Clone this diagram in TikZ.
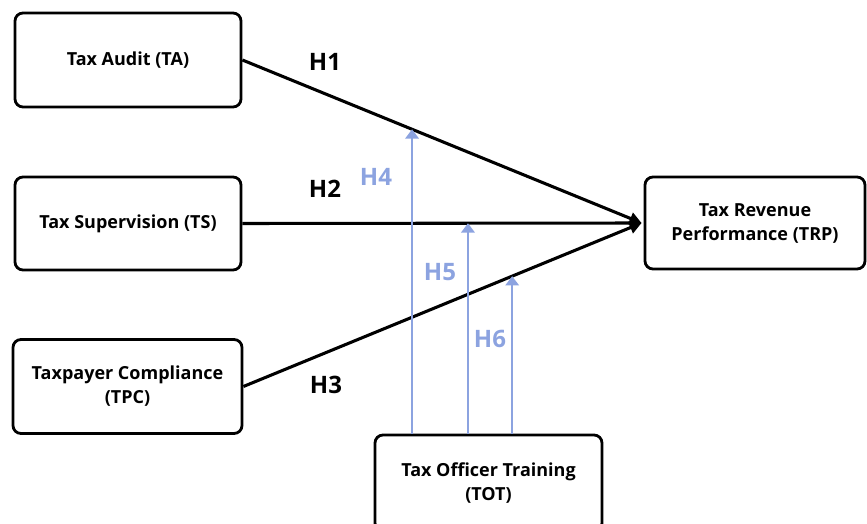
\documentclass[tikz,border=0pt]{standalone}
\usepackage{fontspec}
\setmainfont{Open Sans}
\usetikzlibrary{arrows.meta,calc}
\definecolor{modblue}{RGB}{140,163,224}
\begin{document}
\begin{tikzpicture}[x=0.75pt,y=-0.75pt,
  box/.style={draw=black,line width=2.1pt,rounded corners=6pt,fill=white,
    align=center,font=\bfseries\fontsize{13.5}{18}\selectfont,inner sep=0pt},
  rel/.style={line width=2.3pt,black,-{Triangle[length=9pt,width=9pt]}},
  mod/.style={line width=1.8pt,modblue,-{Triangle[length=7pt,width=10pt]}},
  hlab/.style={font=\bfseries\fontsize{18}{20}\selectfont},
  mlab/.style={font=\bfseries\fontsize{18}{20}\selectfont,text=modblue}]
\useasboundingbox (0,0) rectangle (867,524);
\node[box,minimum width=226*0.75pt,minimum height=94*0.75pt] (TA) at (128,60) {Tax Audit (TA)};
\node[box,minimum width=226*0.75pt,minimum height=93*0.75pt] (TS) at (128,223.5) {Tax Supervision (TS)};
\node[box,minimum width=229*0.75pt,minimum height=94*0.75pt] (TPC) at (127.5,386.5) {Taxpayer Compliance\\(TPC)};
\node[box,minimum width=220*0.75pt,minimum height=92*0.75pt] (TRP) at (755,223) {Tax Revenue\\Performance (TRP)};
\node[box,minimum width=227*0.75pt,minimum height=96*0.75pt] (TOT) at (488.5,483) {Tax Officer Training\\(TOT)};
\coordinate (conv) at ($(TRP.west)+(-2,0)$);
\draw[rel] (TA.east) -- (conv);
\draw[rel] (TS.east) -- (conv);
\draw[rel] (TPC.east) -- (conv);
\path (TA.east) -- (conv) coordinate[pos=0.425] (p4);
\path (TS.east) -- (conv) coordinate[pos=0.565] (p5);
\path (TPC.east) -- (conv) coordinate[pos=0.675] (p6);
\draw[mod] (p4 |- TOT.north) -- (p4);
\draw[mod] (p5 |- TOT.north) -- (p5);
\draw[mod] (p6 |- TOT.north) -- (p6);
\node[hlab] (h1) at (325,62) {H1};
\node[hlab] (h2) at (325,189) {H2};
\node[hlab] (h3) at (326,385) {H3};
\node[mlab] (h4) at (376,177) {H4};
\node[mlab] (h5) at (440,272) {H5};
\node[mlab] (h6) at (490,339) {H6};
\end{tikzpicture}
\end{document}
